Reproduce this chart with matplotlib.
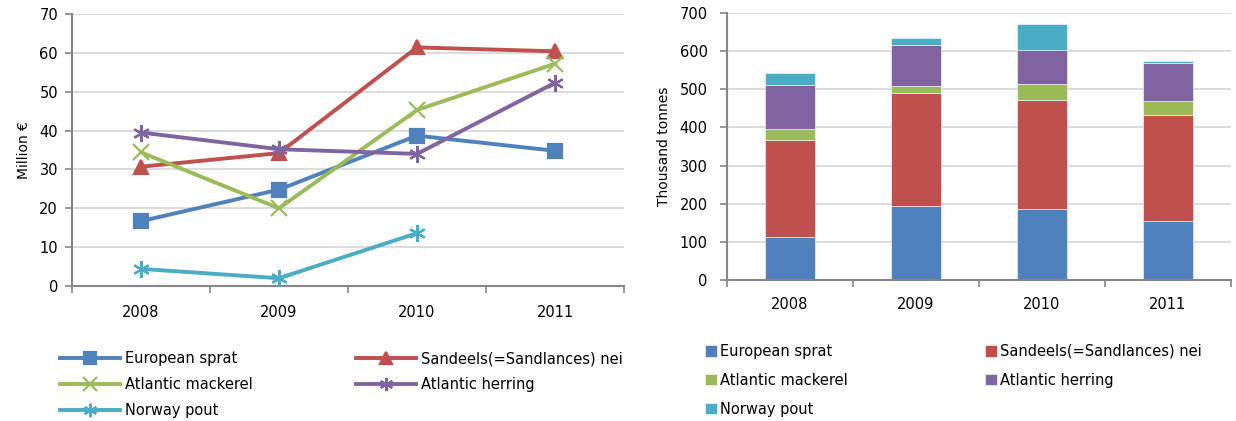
import numpy as np
import matplotlib
matplotlib.use("Agg")
import matplotlib.pyplot as plt

# ---- data ----
years = ["2008", "2009", "2010", "2011"]
species = ["European sprat", "Sandeels(=Sandlances) nei", "Atlantic mackerel",
           "Atlantic herring", "Norway pout"]

# value, million EUR
sprat_val = [16.7, 24.8, 38.7, 34.8]
sandeel_val = [30.7, 34.2, 61.4, 60.4]
mackerel_val = [34.4, 20.0, 45.3, 57.2]
herring_val = [39.5, 35.2, 34.0, 52.3]
pout_val = [4.4, 2.0, 13.6, np.nan]

# landings, thousand tonnes
sprat_t = [114, 194, 185, 154]
sandeel_t = [252, 295, 287, 278]
mackerel_t = [31, 19, 42, 37]
herring_t = [115, 107, 90, 100]
pout_t = [32, 20, 67, 4]

colors = ["#4F81BD", "#C0504D", "#9BBB59", "#8064A2", "#4BACC6"]
markers = ["s", "^", "x", (6, 2, 0), (6, 2, 0)]
grid_c = "#D9D9D9"
spine_c = "#868686"

plt.rcParams["font.family"] = ["DejaVu Sans"]
plt.rcParams["font.size"] = 10.5

fig = plt.figure(figsize=(12.36, 4.21), dpi=100)

W, H = 1236, 421
ax1 = fig.add_axes([72 / W, 1 - 286 / H, 552 / W, 272 / H])
ax2 = fig.add_axes([727 / W, 1 - 280 / H, 504 / W, 267 / H])

x = np.arange(len(years))
# legend fills column by column; this gives the row-wise order of the original
order = [0, 2, 4, 1, 3]


def style_axis(ax, ymax, ystep, xpad):
    ax.set_xlim(-0.5, len(years) - 0.5)
    ax.set_ylim(0, ymax)
    ax.set_yticks(np.arange(0, ymax + 1, ystep))
    ax.set_xticks(x)
    ax.set_xticklabels(years)
    ax.set_xticks(np.arange(-0.5, len(years)), minor=True)
    ax.tick_params(axis="x", which="major", length=0, pad=xpad)
    ax.tick_params(axis="x", which="minor", length=5, width=1.2, color=spine_c)
    ax.tick_params(axis="y", length=5, width=1.2, color=spine_c, pad=5)
    ax.grid(axis="y", color=grid_c, lw=1.3)
    ax.set_axisbelow(True)
    for s in ["top", "right"]:
        ax.spines[s].set_visible(False)
    for s in ["left", "bottom"]:
        ax.spines[s].set_color(spine_c)
        ax.spines[s].set_linewidth(1.5)


# ---- left: value lines ----
values = [sprat_val, sandeel_val, mackerel_val, herring_val, pout_val]
for name, vals, c, m in zip(species, values, colors, markers):
    ms = 10 if m in ("s", "^") else 12
    ax1.plot(x, vals, color=c, lw=2.8, marker=m, ms=ms, mew=1.6,
             label=name, clip_on=False, zorder=3)
style_axis(ax1, 70, 10, 14)
ax1.set_ylabel("Million €", fontsize=10, labelpad=6)

h, l = ax1.get_legend_handles_labels()
fig.legend([h[i] for i in order], [l[i] for i in order], loc="upper left",
           bbox_to_anchor=(60 / W, 1 - 351 / H), ncol=2, frameon=False,
           borderpad=0, borderaxespad=0, handlelength=4.1, handletextpad=0.35,
           columnspacing=7.1, labelspacing=0.76, markerscale=0.8)

# ---- right: stacked bars ----
tonnes = [sprat_t, sandeel_t, mackerel_t, herring_t, pout_t]
bottom = np.zeros(len(years))
for name, vals, c in zip(species, tonnes, colors):
    ax2.bar(x, vals, 0.4, bottom=bottom, color=c, edgecolor="white",
            linewidth=0.4, label=name, zorder=2)
    bottom += np.array(vals)
style_axis(ax2, 700, 100, 12)
ax2.tick_params(axis="y", pad=9)
ax2.set_ylabel("Thousand tonnes", fontsize=10, labelpad=6)

h, l = ax2.get_legend_handles_labels()
fig.legend([h[i] for i in order], [l[i] for i in order], loc="upper left",
           bbox_to_anchor=(705 / W, 1 - 344 / H), ncol=2, frameon=False,
           borderpad=0, borderaxespad=0, handlelength=0.8, handleheight=0.8,
           handletextpad=0.25, columnspacing=9.4, labelspacing=0.95)

fig.savefig("out.png", dpi=100)
